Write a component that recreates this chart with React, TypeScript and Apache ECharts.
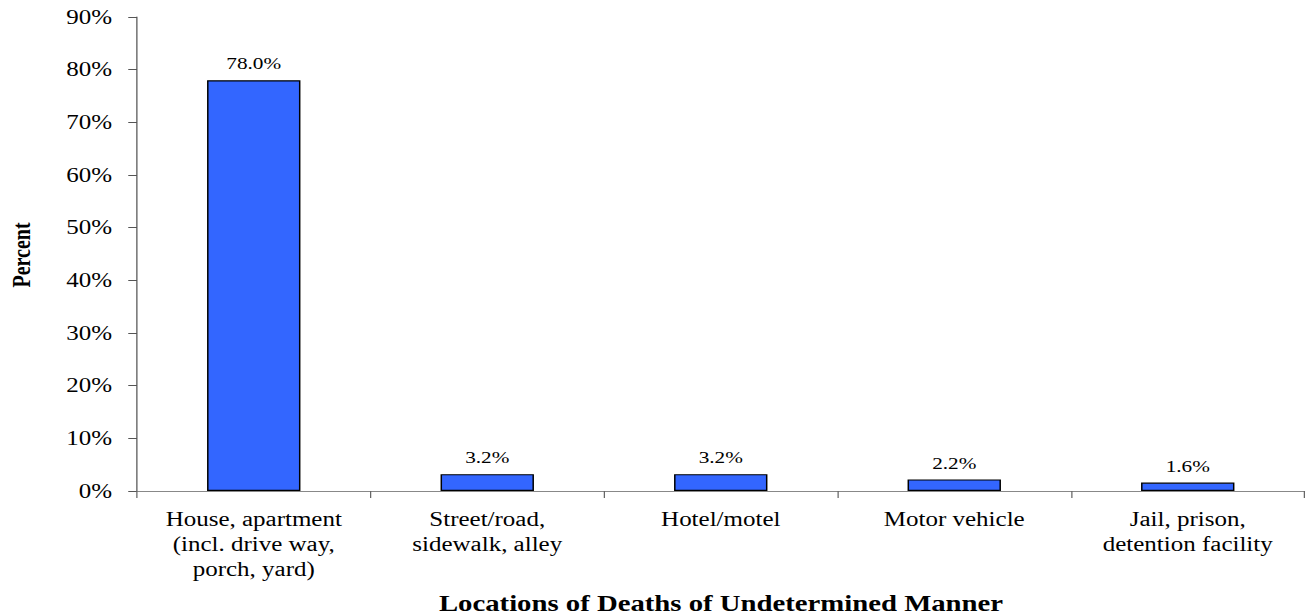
import React, { useEffect, useRef } from "react";
import * as echarts from "echarts";

// Locations of deaths of undetermined manner, share of all such deaths (%)
const categories = [
  "House, apartment\n(incl. drive way,\nporch, yard)",
  "Street/road,\nsidewalk, alley",
  "Hotel/motel",
  "Motor vehicle",
  "Jail, prison,\ndetention facility",
];
const percents = [78.0, 3.2, 3.2, 2.2, 1.6];

const xTitle = "Locations of Deaths of Undetermined Manner";
const yTitle = "Percent";

// The chart is laid out on a narrower canvas and widened with a horizontal scale.
const STRETCH = 1.25;
const FULL_W = 1313;
const FULL_H = 616;
const W = FULL_W / STRETCH;

const FONT = '"Liberation Serif", "Times New Roman", serif';

export default function App() {
  const ref = useRef<HTMLDivElement>(null);

  useEffect(() => {
    if (!ref.current) return;
    const chart = echarts.init(ref.current, undefined, { renderer: "svg" });

    const gridLeft = 137 / STRETCH;
    const gridRight = W - 1305 / STRETCH;
    const gridTop = 17;
    const gridBottom = FULL_H - 491;

    chart.setOption({
      animation: false,
      backgroundColor: "#ffffff",
      textStyle: { fontFamily: FONT },
      grid: {
        left: gridLeft,
        right: gridRight,
        top: gridTop,
        bottom: gridBottom,
        containLabel: false,
      },
      xAxis: {
        type: "category",
        data: categories,
        boundaryGap: true,
        axisLine: { show: true, lineStyle: { color: "#888888", width: 1 } },
        axisTick: {
          show: true,
          length: 7,
          inside: false,
          lineStyle: { color: "#666666", width: 1 },
        },
        axisLabel: {
          interval: 0,
          margin: 16,
          color: "#000000",
          fontFamily: FONT,
          fontSize: 20,
          lineHeight: 25,
          align: "center",
        },
        splitLine: { show: false },
      },
      yAxis: {
        type: "value",
        min: 0,
        max: 90,
        interval: 10,
        axisLine: { show: true, lineStyle: { color: "#555555", width: 1 } },
        axisTick: {
          show: true,
          length: 7,
          inside: false,
          lineStyle: { color: "#555555", width: 1 },
        },
        axisLabel: {
          margin: 20,
          color: "#000000",
          fontFamily: FONT,
          fontSize: 20,
          formatter: "{value}%",
        },
        splitLine: { show: false },
      },
      series: [
        {
          type: "bar",
          data: percents,
          barWidth: "40%",
          itemStyle: {
            color: "#3366FF",
            borderColor: "#000000",
            borderWidth: 1.2,
          },
          label: {
            show: true,
            position: "top",
            distance: 8,
            color: "#000000",
            fontFamily: FONT,
            fontSize: 17,
            formatter: (p: any) => `${Number(p.value).toFixed(1)}%`,
          },
        },
      ],
      graphic: [
        {
          type: "text",
          x: (gridLeft + (W - gridRight)) / 2,
          y: 603,
          style: {
            text: xTitle,
            fontFamily: FONT,
            fontWeight: "bold",
            fontSize: 23,
            fill: "#000000",
            textAlign: "center",
            textVerticalAlign: "middle",
          },
        },
        {
          type: "text",
          x: 22 / STRETCH,
          y: 255,
          rotation: Math.PI / 2,
          style: {
            text: yTitle,
            fontFamily: FONT,
            fontWeight: "bold",
            fontSize: 20,
            fill: "#000000",
            textAlign: "center",
            textVerticalAlign: "middle",
          },
        },
      ],
    });

    return () => {
      chart.dispose();
    };
  }, []);

  return (
    <div
      style={{
        position: "fixed",
        left: 0,
        top: 0,
        width: FULL_W,
        height: FULL_H,
        overflow: "hidden",
        background: "#ffffff",
      }}
    >
      <div
        ref={ref}
        style={{
          width: W,
          height: FULL_H,
          transform: `scaleX(${STRETCH})`,
          transformOrigin: "left top",
        }}
      />
    </div>
  );
}
